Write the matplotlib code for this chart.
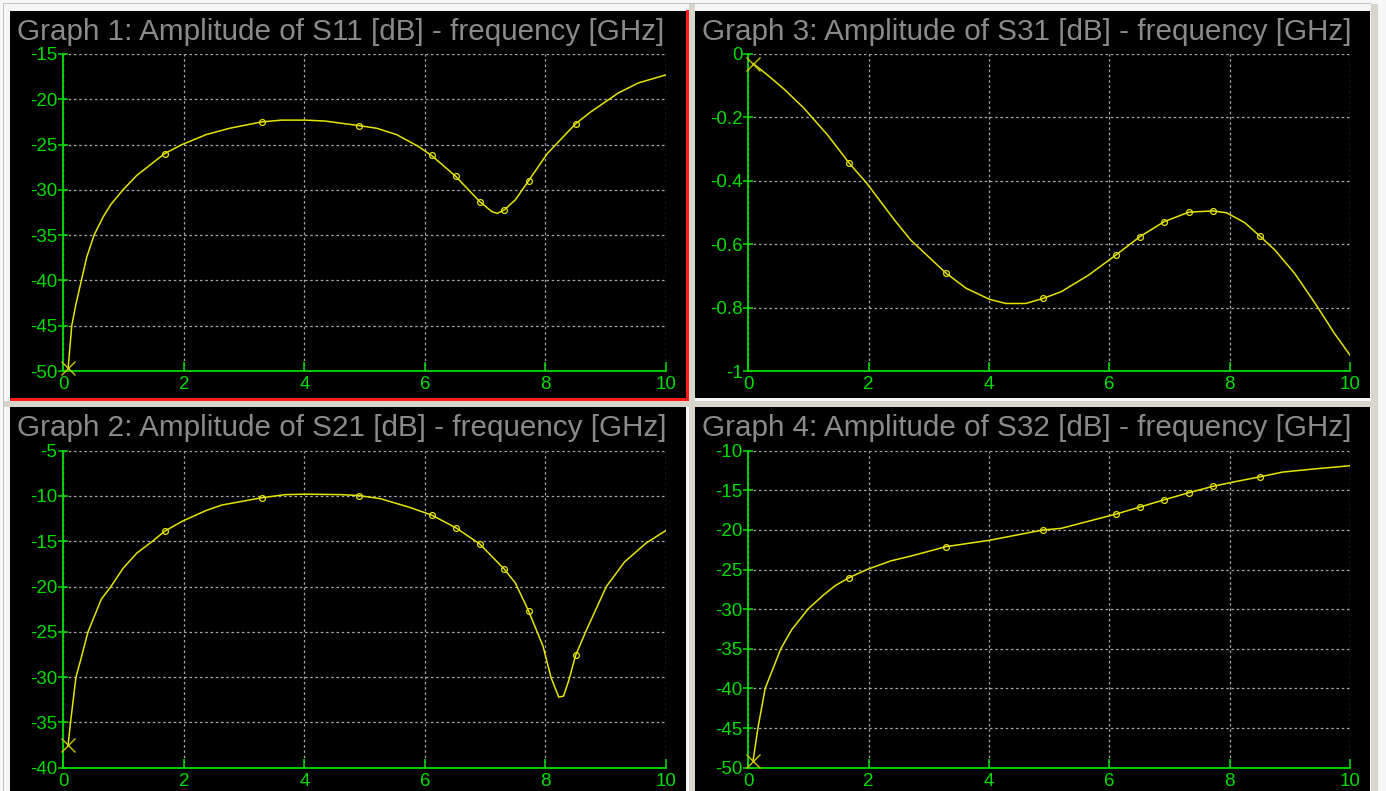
import matplotlib.pyplot as plt
from matplotlib.patches import Rectangle

plt.rcParams['axes.unicode_minus'] = False
plt.rcParams['font.family'] = ['Liberation Sans', 'DejaVu Sans']

W, H = 1386, 791

# frequencies (GHz) where the solver put its sample markers
marker_f = [1.68, 3.29, 4.90, 6.11, 6.51, 6.91, 7.32, 7.72, 8.50]

# Graph 1: S11
s11_f = [0.08, 0.14, 0.21, 0.30, 0.39, 0.51, 0.66, 0.79, 0.99, 1.22, 1.45, 1.68, 1.97,
         2.37, 2.76, 3.29, 3.62, 4.01, 4.34, 4.90, 5.20, 5.53, 5.89, 6.11, 6.51, 6.91,
         7.11, 7.20, 7.32, 7.50, 7.72, 8.03, 8.50, 8.75, 9.21, 9.54, 10.0]
s11_db = [-49.7, -45.0, -42.6, -40.0, -37.4, -35.0, -33.0, -31.6, -30.0, -28.4, -27.2, -26.0, -25.0,
          -23.9, -23.2, -22.5, -22.3, -22.3, -22.4, -22.9, -23.2, -23.9, -25.2, -26.2, -28.5, -31.3,
          -32.4, -32.6, -32.2, -31.1, -29.0, -26.0, -22.7, -21.4, -19.3, -18.2, -17.3]

# Graph 2: S21
s21_f = [0.08, 0.12, 0.21, 0.30, 0.41, 0.63, 0.79, 0.99, 1.22, 1.48, 1.68, 1.97, 2.37, 2.63,
         3.29, 3.68, 4.01, 4.61, 4.90, 5.26, 5.72, 6.11, 6.51, 6.91, 7.32, 7.50, 7.72, 7.96,
         8.09, 8.22, 8.30, 8.39, 8.50, 8.68, 9.01, 9.31, 9.67, 10.0]
s21_db = [-37.5, -35.0, -30.0, -27.8, -25.0, -21.4, -20.0, -18.0, -16.3, -15.0, -13.9, -12.8, -11.6, -11.0,
          -10.2, -9.85, -9.8, -9.85, -9.95, -10.3, -11.2, -12.1, -13.5, -15.3, -18.1, -19.6, -22.7, -26.6,
          -30.0, -32.2, -32.1, -30.3, -27.6, -24.8, -20.0, -17.3, -15.2, -13.8]

# Graph 3: S31
s31_f = [0.08, 0.33, 0.59, 0.92, 1.32, 1.68, 1.97, 2.43, 2.70, 3.29, 3.62, 4.01, 4.28, 4.61,
         4.90, 5.20, 5.66, 6.11, 6.51, 6.91, 7.32, 7.72, 7.95, 8.25, 8.50, 8.75, 9.08, 9.44,
         9.74, 10.0]
s31_db = [-0.030, -0.068, -0.110, -0.170, -0.256, -0.345, -0.408, -0.524, -0.587, -0.692, -0.739,
          -0.774, -0.787, -0.787, -0.771, -0.750, -0.697, -0.634, -0.576, -0.529, -0.499, -0.495,
          -0.501, -0.532, -0.574, -0.618, -0.692, -0.792, -0.881, -0.950]

# Graph 4: S32
s32_f = [0.08, 0.16, 0.28, 0.54, 0.72, 0.99, 1.25, 1.45, 1.68, 1.97, 2.37, 2.70, 3.29, 4.01,
         4.90, 5.20, 6.11, 6.51, 6.91, 7.32, 7.72, 8.03, 8.50, 8.88, 9.41, 10.0]
s32_db = [-49.1, -45.0, -40.0, -35.0, -32.6, -30.0, -28.2, -27.0, -26.0, -25.0, -23.9, -23.3, -22.1, -21.3,
          -20.0, -19.8, -18.0, -17.1, -16.2, -15.3, -14.5, -14.0, -13.3, -12.7, -12.3, -11.9]

x_ticks = [0, 2, 4, 6, 8, 10]
y_ticks_1 = [-15, -20, -25, -30, -35, -40, -45, -50]
y_ticks_2 = [-5, -10, -15, -20, -25, -30, -35, -40]
y_ticks_3 = [0, -0.2, -0.4, -0.6, -0.8, -1]
y_labels_3 = ['0', '-0.2', '-0.4', '-0.6', '-0.8', '-1']
y_ticks_4 = [-10, -15, -20, -25, -30, -35, -40, -45, -50]

titles = ["Graph 1: Amplitude of S11 [dB] - frequency [GHz]",
          "Graph 2: Amplitude of S21 [dB] - frequency [GHz]",
          "Graph 3: Amplitude of S31 [dB] - frequency [GHz]",
          "Graph 4: Amplitude of S32 [dB] - frequency [GHz]"]

GREEN = '#00dc00'
YELLOW = '#e4e400'
GRIDC = '#a8a8a8'
TITLEC = '#8a8a8a'


def fbox(x0, y0, x1, y1):
    # pixel box (top-left origin) -> figure fraction [left, bottom, width, height]
    return [x0 / W, 1 - y1 / H, (x1 - x0) / W, (y1 - y0) / H]


def rect(fig, x0, y0, x1, y1, color):
    l, b, w, h = fbox(x0, y0, x1, y1)
    fig.patches.append(Rectangle((l, b), w, h, transform=fig.transFigure,
                                 facecolor=color, edgecolor='none', zorder=-1))


def graph(fig, box, f, db, yticks, ylabels=None):
    ax = fig.add_axes(fbox(*box))
    ax.set_facecolor('black')
    ax.plot(f, db, color=YELLOW, lw=1.1, marker='o', ms=4.2, mfc='none', mew=0.9,
            markevery=[f.index(m) for m in marker_f], zorder=3)
    ax.plot(f[0], db[0], 'x', ms=10, mew=1.0, color='#c8c800', clip_on=False, zorder=4)
    ax.set_xlim(0, 10)
    ax.set_ylim(min(yticks), max(yticks))
    ax.set_xticks(x_ticks)
    if ylabels is None:
        ylabels = [str(t) for t in yticks]
    ax.set_yticks(yticks, ylabels)
    ax.grid(True, color=GRIDC, linestyle=(0, (2, 2.2)), lw=0.9)
    ax.set_axisbelow(True)
    for s in ['top', 'right']:
        ax.spines[s].set_visible(False)
    for s in ['left', 'bottom']:
        ax.spines[s].set_color(GREEN)
        ax.spines[s].set_linewidth(1.3)
        ax.spines[s].set_zorder(2.5)
    ax.tick_params(axis='y', direction='inout', length=7.5, width=1.1, color=GREEN,
                   labelcolor=GREEN, labelsize=13.5, pad=0.5)
    ax.tick_params(axis='x', direction='in', length=6.5, width=1.1, color=GREEN,
                   labelcolor=GREEN, labelsize=13.5, pad=3.5)
    return ax


fig = plt.figure(figsize=(W / 100, H / 100), dpi=100)
fig.patch.set_facecolor('#f7f7f7')

# window frame, gaps and scrollbar strip
rect(fig, 3, 3, 1371, 4, '#c4c4c4')
rect(fig, 3, 3, 4, 791, '#c4c4c4')
rect(fig, 689, 4, 695, 791, '#d8d5cc')
rect(fig, 4, 401, 1371, 407, '#d8d5cc')
rect(fig, 1371, 4, 1378, 791, '#d8d5cc')

# black panels
rect(fig, 10, 11, 686, 398, 'black')
rect(fig, 695, 11, 1370, 398, 'black')
rect(fig, 10, 407, 686, 791, 'black')
rect(fig, 695, 407, 1370, 791, 'black')

# red selection border of graph 1
rect(fig, 686, 10, 689, 401, '#ff1a1a')
rect(fig, 10, 398, 689, 401, '#ff1a1a')

graph(fig, (63.3, 54, 666, 371), s11_f, s11_db, y_ticks_1)
graph(fig, (748.3, 54, 1350, 371), s31_f, s31_db, y_ticks_3, y_labels_3)
graph(fig, (63.3, 450.7, 666, 767.7), s21_f, s21_db, y_ticks_2)
graph(fig, (748.3, 450.7, 1350, 767.7), s32_f, s32_db, y_ticks_4)

title_pos = [(17, 40), (17, 436), (702, 40), (702, 436)]
for (tx, ty), t in zip(title_pos, titles):
    fig.text(tx / W, 1 - ty / H, t, color=TITLEC, fontsize=21.3, va='baseline', ha='left')

fig.savefig('out.png', dpi=100, facecolor=fig.get_facecolor())
